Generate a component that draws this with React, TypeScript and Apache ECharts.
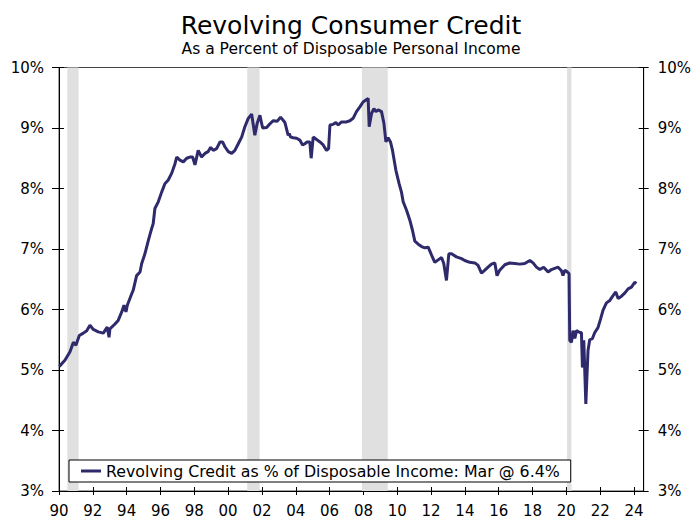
import React, { useEffect, useRef } from 'react';
import * as echarts from 'echarts';

const titleText = 'Revolving Consumer Credit';
const subtitleText = 'As a Percent of Disposable Personal Income';
const seriesName = 'Revolving Credit as % of Disposable Income: Mar @ 6.4%';

// decimal years
const dates = [
  1990.02, 1990.35, 1990.65, 1990.85, 1991.0, 1991.2, 1991.44, 1991.64, 1991.83, 1992.03,
  1992.32, 1992.62, 1992.85, 1992.96, 1993.01, 1993.31, 1993.5, 1993.71, 1993.84, 1993.96,
  1994.04, 1994.3, 1994.39, 1994.59, 1994.79, 1994.89, 1995.08, 1995.28, 1995.48, 1995.57,
  1995.67, 1995.87, 1996.07, 1996.26, 1996.46, 1996.66, 1996.86, 1996.96, 1997.15, 1997.35,
  1997.55, 1997.74, 1997.9, 1998.04, 1998.23, 1998.43, 1998.63, 1998.82, 1998.97, 1999.12,
  1999.32, 1999.52, 1999.67, 1999.81, 2000.01, 2000.21, 2000.4, 2000.6, 2000.8, 2000.99,
  2001.19, 2001.39, 2001.58, 2001.72, 2001.88, 2002.04, 2002.28, 2002.47, 2002.67, 2002.9,
  2003.1, 2003.36, 2003.55, 2003.61, 2003.69, 2003.85, 2004.05, 2004.24, 2004.4, 2004.54,
  2004.67, 2004.83, 2004.91, 2005.03, 2005.23, 2005.43, 2005.62, 2005.82, 2005.94, 2006.02,
  2006.21, 2006.37, 2006.51, 2006.71, 2007.0, 2007.2, 2007.39, 2007.59, 2007.79, 2007.98,
  2008.19, 2008.28, 2008.34, 2008.48, 2008.62, 2008.74, 2008.87, 2009.07, 2009.21, 2009.33,
  2009.46, 2009.6, 2009.72, 2009.92, 2010.11, 2010.25, 2010.35, 2010.55, 2010.74, 2010.9,
  2011.04, 2011.24, 2011.44, 2011.63, 2011.83, 2012.03, 2012.22, 2012.42, 2012.62, 2012.75,
  2012.91, 2013.05, 2013.21, 2013.5, 2013.8, 2013.99, 2014.29, 2014.59, 2014.78, 2014.98,
  2015.18, 2015.37, 2015.57, 2015.77, 2015.9, 2016.06, 2016.36, 2016.65, 2016.95, 2017.25,
  2017.54, 2017.84, 2018.03, 2018.23, 2018.43, 2018.66, 2018.92, 2019.12, 2019.31, 2019.51,
  2019.71, 2019.8, 2019.91, 2020.06, 2020.16, 2020.2, 2020.3, 2020.4, 2020.5, 2020.6,
  2020.79, 2020.89, 2020.95, 2021.03, 2021.15, 2021.28, 2021.38, 2021.54, 2021.68, 2021.87,
  2022.02, 2022.17, 2022.37, 2022.57, 2022.76, 2022.92, 2023.06, 2023.26, 2023.45, 2023.65,
  2023.85, 2024.04, 2024.14,
];

// percent of disposable personal income
const values = [
  5.06, 5.16, 5.3, 5.46, 5.41, 5.57, 5.61, 5.65, 5.74, 5.67,
  5.63, 5.61, 5.71, 5.54, 5.68, 5.76, 5.82, 5.96, 6.07, 5.96,
  6.07, 6.26, 6.32, 6.56, 6.62, 6.76, 6.92, 7.14, 7.34, 7.42,
  7.67, 7.78, 7.94, 8.08, 8.14, 8.25, 8.41, 8.52, 8.47, 8.44,
  8.5, 8.52, 8.52, 8.39, 8.63, 8.52, 8.58, 8.61, 8.68, 8.63,
  8.66, 8.77, 8.77, 8.69, 8.61, 8.58, 8.63, 8.74, 8.85, 9.02,
  9.16, 9.23, 8.88, 9.08, 9.21, 9.0, 9.01, 9.07, 9.12, 9.11,
  9.18, 9.09, 8.88, 8.91, 8.85, 8.84, 8.83, 8.8, 8.72, 8.74,
  8.77, 8.77, 8.5, 8.85, 8.81, 8.77, 8.72, 8.63, 8.66, 9.05,
  9.06, 9.09, 9.05, 9.1, 9.1, 9.12, 9.16, 9.27, 9.35, 9.43,
  9.47, 9.49, 9.02, 9.24, 9.32, 9.27, 9.3, 9.27, 9.08, 8.77,
  8.84, 8.77, 8.63, 8.3, 8.08, 7.94, 7.78, 7.64, 7.48, 7.31,
  7.13, 7.08, 7.04, 7.02, 7.03, 6.9, 6.78, 6.82, 6.86, 6.76,
  6.48, 6.92, 6.92, 6.87, 6.84, 6.81, 6.78, 6.77, 6.73, 6.6,
  6.65, 6.7, 6.75, 6.77, 6.56, 6.65, 6.74, 6.77, 6.76, 6.75,
  6.76, 6.81, 6.77, 6.7, 6.66, 6.7, 6.62, 6.66, 6.68, 6.7,
  6.64, 6.56, 6.65, 6.62, 6.59, 5.49, 5.46, 5.65, 5.52, 5.65,
  5.62, 5.62, 5.04, 5.49, 4.44, 5.32, 5.5, 5.52, 5.62, 5.7,
  5.84, 5.99, 6.11, 6.15, 6.23, 6.29, 6.18, 6.22, 6.27, 6.34,
  6.37, 6.45, 6.43,
];

// recession periods [start, end] in decimal years
const recessionStarts = [1990.49, 2001.13, 2007.91, 2020.04];
const recessionEnds = [1991.16, 2001.86, 2009.44, 2020.3];

const xMin = 1990;
const xMax = 2024.57;
const yMin = 3;
const yMax = 10;

export default function App() {
  const ref = useRef<HTMLDivElement>(null);
  useEffect(() => {
    document.body.style.margin = '0';
    const chart = echarts.init(ref.current as HTMLDivElement, null, { renderer: 'svg' });
    const font = 'DejaVu Sans';
    const xLabel = (v: number) => {
      if (Math.abs(v - Math.round(v)) > 1e-6 || Math.round(v) % 2 !== 0) return '';
      return String(Math.round(v) % 100).padStart(2, '0');
    };
    const baseX = {
      type: 'value',
      min: xMin,
      max: xMax,
      interval: 2,
      position: 'bottom',
      splitLine: { show: false },
    };
    const baseY = {
      type: 'value',
      min: yMin,
      max: yMax,
      interval: 1,
      splitLine: { show: false },
    };
    chart.setOption({
      animation: false,
      backgroundColor: '#fff',
      textStyle: { fontFamily: font },
      grid: {
        left: 59,
        right: 50,
        top: 67.5,
        bottom: 30,
        show: true,
        borderColor: '#444',
        borderWidth: 1,
        backgroundColor: 'transparent',
      },
      graphic: [
        {
          type: 'text',
          x: 351,
          y: 25,
          style: {
            text: titleText,
            fontFamily: font,
            fontSize: 25,
            fill: '#000',
            textAlign: 'center',
            textVerticalAlign: 'middle',
          },
        },
        {
          type: 'text',
          x: 351,
          y: 49,
          style: {
            text: subtitleText,
            fontFamily: font,
            fontSize: 15.5,
            fill: '#000',
            textAlign: 'center',
            textVerticalAlign: 'middle',
          },
        },
      ],
      legend: {
        data: [seriesName],
        left: 69,
        top: 460,
        padding: [3, 11, 3, 12],
        borderColor: '#000',
        borderWidth: 1,
        backgroundColor: '#fff',
        icon: 'rect',
        itemWidth: 20,
        itemHeight: 3,
        textStyle: { fontFamily: font, fontSize: 15.8, color: '#000', lineHeight: 16 },
        z: 10,
      },
      xAxis: [
        {
          ...baseX,
          axisLine: { show: true, lineStyle: { color: '#000', width: 1 } },
          axisTick: { show: true, length: 4, lineStyle: { color: '#000' } },
          axisLabel: {
            show: true,
            formatter: xLabel,
            fontFamily: font,
            fontSize: 15,
            color: '#000',
            margin: 12,
            showMaxLabel: false,
          },
        },
        {
          ...baseX,
          axisLine: { show: false },
          axisTick: { show: true, inside: true, length: 4, lineStyle: { color: '#000' } },
          axisLabel: { show: false },
        },
      ],
      yAxis: [
        {
          ...baseY,
          position: 'left',
          axisLine: { show: true, lineStyle: { color: '#000', width: 1 } },
          axisTick: { show: true, length: 7, lineStyle: { color: '#000' } },
          axisLabel: {
            formatter: '{value}%',
            fontFamily: font,
            fontSize: 15,
            color: '#000',
            margin: 15,
          },
        },
        {
          ...baseY,
          position: 'left',
          axisLine: { show: false },
          axisTick: { show: true, inside: true, length: 5, lineStyle: { color: '#000' } },
          axisLabel: { show: false },
        },
        {
          ...baseY,
          position: 'right',
          axisLine: { show: true, lineStyle: { color: '#000', width: 1 } },
          axisTick: { show: true, length: 5, lineStyle: { color: '#000' } },
          axisLabel: {
            formatter: '{value}%',
            fontFamily: font,
            fontSize: 15,
            color: '#000',
            margin: 14,
          },
        },
        {
          ...baseY,
          position: 'right',
          axisLine: { show: false },
          axisTick: { show: true, inside: true, length: 5, lineStyle: { color: '#000' } },
          axisLabel: { show: false },
        },
      ],
      series: [
        {
          name: 'recessions',
          type: 'line',
          data: [],
          z: 1,
          silent: true,
          markArea: {
            silent: true,
            itemStyle: { color: '#e0e0e0' },
            data: recessionStarts.map((s, i) => [{ xAxis: s }, { xAxis: recessionEnds[i] }]),
          },
        },
        {
          name: seriesName,
          type: 'line',
          z: 3,
          showSymbol: false,
          symbol: 'none',
          color: '#2e2a6b',
          lineStyle: { color: '#2e2a6b', width: 3 },
          data: dates.map((d, i) => [d, values[i]]),
        },
      ],
    });
    return () => chart.dispose();
  }, []);
  return <div ref={ref} style={{ width: 694, height: 521 }} />;
}
